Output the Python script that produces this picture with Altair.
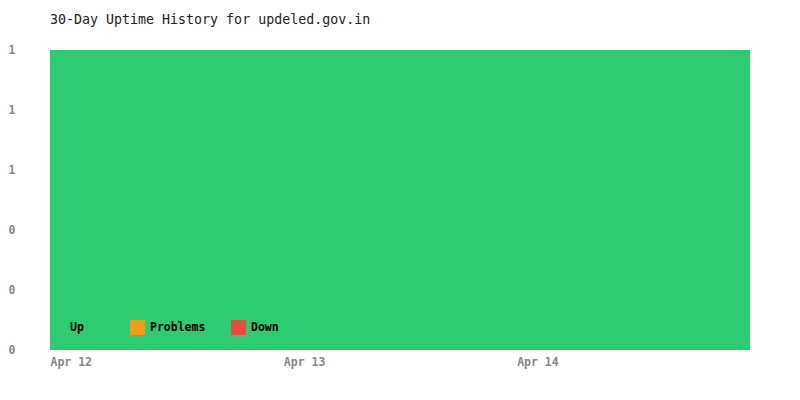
import altair as alt
import pandas as pd

dates = ["2024-04-12", "2024-04-13", "2024-04-14", "2024-04-15"]
up = [1, 1, 1, 1]
problems = [0, 0, 0, 0]
down = [0, 0, 0, 0]
statuses = ["Up", "Problems", "Down"]
colors = ["#2ecc71", "#f39c12", "#e74c3c"]
x_ticks = ["2024-04-12", "2024-04-13", "2024-04-14"]
y_ticks = [0, 0.2, 0.4, 0.6, 0.8, 1.0]
title = "30-Day Uptime History for updeled.gov.in"

rows = []
for d, u, p, dn in zip(dates, up, problems, down):
    rows.append({"date": d, "status": "Up", "value": u, "order": 0})
    rows.append({"date": d, "status": "Problems", "value": p, "order": 1})
    rows.append({"date": d, "status": "Down", "value": dn, "order": 2})
df = pd.DataFrame(rows)

tick_vals = [
    alt.DateTime(year=int(t[:4]), month=int(t[5:7]), date=int(t[8:10]), utc=True)
    for t in x_ticks
]

FONT = "DejaVu Sans Mono"
PAD = "\u00a0" * 3 + "\u200b"

chart = (
    alt.Chart(df)
    .mark_area(opacity=1)
    .encode(
        x=alt.X(
            "date:T",
            scale=alt.Scale(type="utc", nice=False),
            axis=alt.Axis(
                values=tick_vals,
                labelExpr="utcFormat(datum.value, '%b %d')",
                title=None,
                labelAlign="left",
                labelBaseline="top",
                labelPadding=6,
                grid=False,
                ticks=False,
                domain=False,
            ),
        ),
        y=alt.Y(
            "value:Q",
            stack="zero",
            scale=alt.Scale(domain=[0, 1], nice=False),
            axis=alt.Axis(
                values=y_ticks,
                labelExpr="'' + round(datum.value)",
                labelOverlap=False,
                title=None,
                labelAlign="left",
                labelBaseline="middle",
                labelPadding=42,
                grid=False,
                ticks=False,
                domain=False,
            ),
        ),
        color=alt.Color(
            "status:N",
            scale=alt.Scale(domain=statuses, range=colors),
            legend=alt.Legend(
                title=None,
                orient="none",
                legendX=0,
                legendY=270,
                direction="horizontal",
                symbolType="square",
                symbolSize=225,
                symbolStrokeWidth=0,
                symbolOpacity=1,
                padding=0,
                columnPadding=25,
                labelOffset=5,
                labelFont=FONT,
                labelFontSize=11.5,
                labelFontWeight="bold",
                labelColor="#000000",
                labelExpr="datum.label == 'Up' ? 'Up" + PAD + "' : datum.label",
            ),
        ),
        order=alt.Order("order:Q"),
    )
    .properties(
        width=700,
        height=300,
        autosize="none",
        padding={"left": 42, "top": 42, "right": 42, "bottom": 42},
        title=alt.TitleParams(
            title,
            anchor="start",
            frame="group",
            font=FONT,
            fontSize=13.3,
            fontWeight="normal",
            color="#222222",
            offset=18,
        ),
    )
    .configure_axis(
        labelFont=FONT,
        labelFontSize=11.5,
        labelFontWeight="bold",
        labelColor="#888888",
    )
    .configure_view(strokeWidth=0)
)

chart.save("out.html", embed_options={"renderer": "svg", "actions": False})
